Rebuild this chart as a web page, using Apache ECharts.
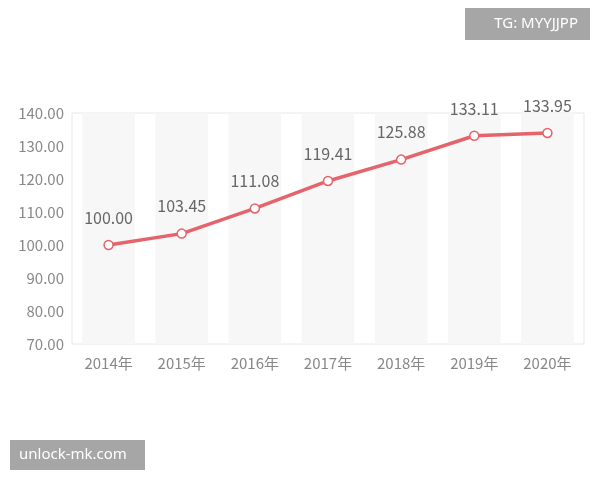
<!DOCTYPE html>
<html>
<head>
<meta charset="utf-8">
<script src="https://cdn.jsdelivr.net/npm/echarts@6/dist/echarts.min.js"></script>
<style>html,body{margin:0;background:#fff}#main{width:600px;height:480px}</style>
</head>
<body>
<div id="main"></div>
<script>
// 年份与指数
var years = ['2014年', '2015年', '2016年', '2017年', '2018年', '2019年', '2020年'];
var values = [100.00, 103.45, 111.08, 119.41, 125.88, 133.11, 133.95];

var chart = echarts.init(document.getElementById('main'));
chart.setOption({
    animation: false,
    textStyle: {fontFamily: '"Noto Sans CJK SC", "Noto Sans", sans-serif'},
    grid: {left: 72, right: 16, top: 113, bottom: 136, show: true, borderColor: '#e8e8e8', borderWidth: 1},
    xAxis: {
        type: 'category',
        data: years,
        axisLine: {show: false},
        axisTick: {show: false},
        axisLabel: {color: '#888', fontSize: 15, margin: 12}
    },
    yAxis: {
        type: 'value',
        min: 70, max: 140, interval: 10,
        axisLine: {show: false},
        axisTick: {show: false},
        splitLine: {show: false},
        axisLabel: {color: '#888', fontSize: 15, margin: 8, formatter: function (v) { return v.toFixed(2); }}
    },
    graphic: [
        {type: 'rect', right: 10, top: 8, shape: {width: 125, height: 32}, style: {fill: '#a6a6a6'}},
        {type: 'text', right: 22, top: 16, style: {text: 'TG: MYYJJPP', fill: '#fff', font: '15px "Noto Sans", sans-serif'}},
        {type: 'rect', left: 10, top: 440, shape: {width: 135, height: 30}, style: {fill: '#a6a6a6'}},
        {type: 'text', left: 19, top: 447, style: {text: 'unlock-mk.com', fill: '#fff', font: '15px "Noto Sans", sans-serif'}}
    ],
    series: [
        {
            type: 'bar',
            data: values,
            barWidth: '72%',
            itemStyle: {color: 'rgba(0,0,0,0)'},
            showBackground: true,
            backgroundStyle: {color: '#f7f7f7'},
            silent: true
        },
        {
            type: 'line',
            data: values,
            symbol: 'circle',
            symbolSize: 9,
            lineStyle: {color: '#e5646b', width: 3.5},
            itemStyle: {color: '#fff', borderColor: '#e5646b', borderWidth: 1.5},
            label: {
                show: true, position: 'top', distance: 14, color: '#666', fontSize: 16,
                formatter: function (p) { return p.value.toFixed(2); }
            }
        }
    ]
});
</script>
</body>
</html>
